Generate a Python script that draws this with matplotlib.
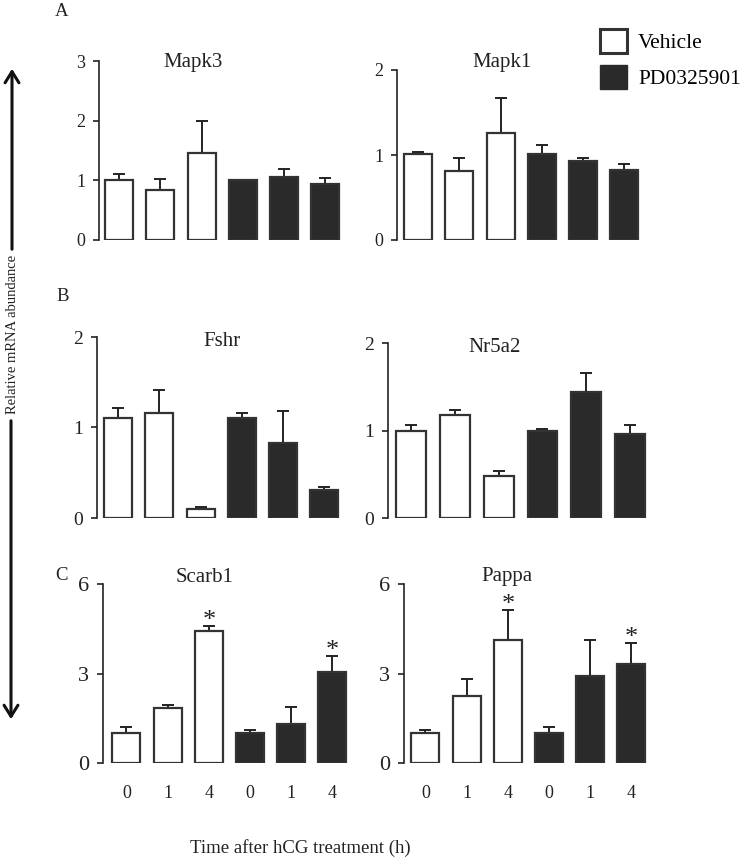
import numpy as np
import matplotlib
matplotlib.use("Agg")
import matplotlib.pyplot as plt
from matplotlib.patches import Patch, FancyArrowPatch

plt.rcParams['font.family'] = ['Liberation Serif', 'DejaVu Serif']

# data (relative mRNA abundance, 0/1/4 h for vehicle then PD0325901)
genes = ['Mapk3', 'Mapk1', 'Fshr', 'Nr5a2', 'Scarb1', 'Pappa']
hours = ['0', '1', '4', '0', '1', '4']
groups = ['Vehicle', 'Vehicle', 'Vehicle', 'PD0325901', 'PD0325901', 'PD0325901']

mapk3 = [1.00, 0.84, 1.45, 1.00, 1.06, 0.94]
mapk3_err = [0.11, 0.19, 0.55, 0.01, 0.13, 0.10]
mapk1 = [1.01, 0.815, 1.255, 1.01, 0.93, 0.82]
mapk1_err = [0.03, 0.155, 0.415, 0.11, 0.04, 0.07]
fshr = [1.11, 1.16, 0.10, 1.11, 0.83, 0.31]
fshr_err = [0.11, 0.25, 0.02, 0.05, 0.35, 0.03]
nr5a2 = [1.00, 1.18, 0.48, 1.00, 1.44, 0.96]
nr5a2_err = [0.06, 0.06, 0.06, 0.02, 0.22, 0.10]
scarb1 = [1.00, 1.85, 4.43, 1.00, 1.32, 3.05]
scarb1_err = [0.19, 0.08, 0.15, 0.10, 0.55, 0.53]
pappa = [1.00, 2.24, 4.12, 1.00, 2.90, 3.33]
pappa_err = [0.11, 0.59, 1.00, 0.19, 1.22, 0.68]
scarb1_sig = [2, 5]
pappa_sig = [2, 5]

W, H = 744, 863
fig = plt.figure(figsize=(W / 100, H / 100), dpi=100)

def px(x, y):
    return x / W, 1 - y / H

def make_ax(spine_x, first_c, spacing, right, zero_y, top_y):
    ax = fig.add_axes([spine_x / W, 1 - zero_y / H, (right - spine_x) / W, (zero_y - top_y) / H])
    ax.set_xlim(-(first_c - spine_x) / spacing, 5.5)
    return ax

dark = '#2a2a2a'
edge = '#333333'

def draw(ax, vals, errs, ymax, yticks, tick_fs, sig=None, xlabels=False):
    x = np.arange(len(vals))
    cols = ['white' if g == 'Vehicle' else dark for g in groups]
    ax.bar(x, vals, width=0.68, color=cols, edgecolor=edge, linewidth=1.6, zorder=2)
    ax.errorbar(x, vals, yerr=[np.zeros(len(errs)), errs], fmt='none',
                ecolor='#222222', elinewidth=1.4, capsize=4.5, capthick=1.4, zorder=1)
    ax.set_ylim(0, ymax)
    ax.set_yticks(yticks)
    ax.tick_params(axis='y', direction='out', length=4, width=1.2, labelsize=tick_fs, pad=6, colors='#222222')
    for s in ['top', 'right', 'bottom']:
        ax.spines[s].set_visible(False)
    ax.spines['left'].set_linewidth(1.2)
    ax.spines['left'].set_color('#222222')
    if xlabels:
        ax.set_xticks(x)
        ax.set_xticklabels(hours)
        ax.tick_params(axis='x', length=0, labelsize=13, pad=16, colors='#222222')
    else:
        ax.set_xticks([])
    if sig:
        for i in sig:
            ax.annotate('*', (x[i], vals[i] + errs[i]), xytext=(0, -4), textcoords='offset points',
                        ha='center', va='bottom', fontsize=19, color='#222222')
    ax.patch.set_alpha(0)

axA1 = make_ax(99, 119, 41.3, 346, 240, 61)
draw(axA1, mapk3, mapk3_err, 3, [0, 1, 2, 3], 13)
axA2 = make_ax(397, 418, 41.3, 645, 240, 70)
draw(axA2, mapk1, mapk1_err, 2, [0, 1, 2], 13)
axB1 = make_ax(97, 118, 41.2, 345, 518, 337)
draw(axB1, fshr, fshr_err, 2, [0, 1, 2], 14)
axB2 = make_ax(388, 411, 43.9, 652, 518, 343)
draw(axB2, nr5a2, nr5a2_err, 2, [0, 1, 2], 14)
axC1 = make_ax(103, 126.5, 41.2, 353, 763, 584)
draw(axC1, scarb1, scarb1_err, 6, [0, 3, 6], 16, sig=scarb1_sig, xlabels=True)
axC2 = make_ax(404, 425.5, 41.2, 652, 763, 584)
draw(axC2, pappa, pappa_err, 6, [0, 3, 6], 16, sig=pappa_sig, xlabels=True)

# gene titles
title_pos = [(193, 63), (502, 63), (222, 341), (495, 347), (205, 577), (507, 577)]
for g, (tx, ty) in zip(genes, title_pos):
    fig.text(*px(tx, ty), g, ha='center', va='center', fontsize=15, color='#222222')

# panel letters
for lab, (lx, ly) in zip(['A', 'B', 'C'], [(62, 12), (63, 296), (62, 575)]):
    fig.text(*px(lx, ly), lab, ha='center', va='center', fontsize=13.5, color='#222222')

fig.text(*px(300, 848), 'Time after hCG treatment (h)', ha='center', va='center',
         fontsize=13.5, color='#222222')
fig.text(*px(13, 334), 'Relative mRNA abundance', ha='center', va='center',
         rotation=90, fontsize=10.5, color='#222222')

fig.add_artist(FancyArrowPatch(px(12, 252), px(12, 66), transform=fig.transFigure,
                               arrowstyle='->,head_width=5,head_length=8', lw=2.2, color='#111111'))
fig.add_artist(FancyArrowPatch(px(11, 418), px(11, 722), transform=fig.transFigure,
                               arrowstyle='->,head_width=5,head_length=8', lw=2.2, color='#111111'))

handles = [Patch(facecolor='white', edgecolor=edge, linewidth=2.2, label='Vehicle'),
           Patch(facecolor=dark, edgecolor=dark, label='PD0325901')]
fig.legend(handles=handles, loc='upper left', bbox_to_anchor=px(594, 23), frameon=False,
           fontsize=15.5, handlelength=1.25, handleheight=1.3, handletextpad=0.5,
           labelspacing=0.55, borderaxespad=0, borderpad=0.3)

fig.savefig('out.png', dpi=100)
